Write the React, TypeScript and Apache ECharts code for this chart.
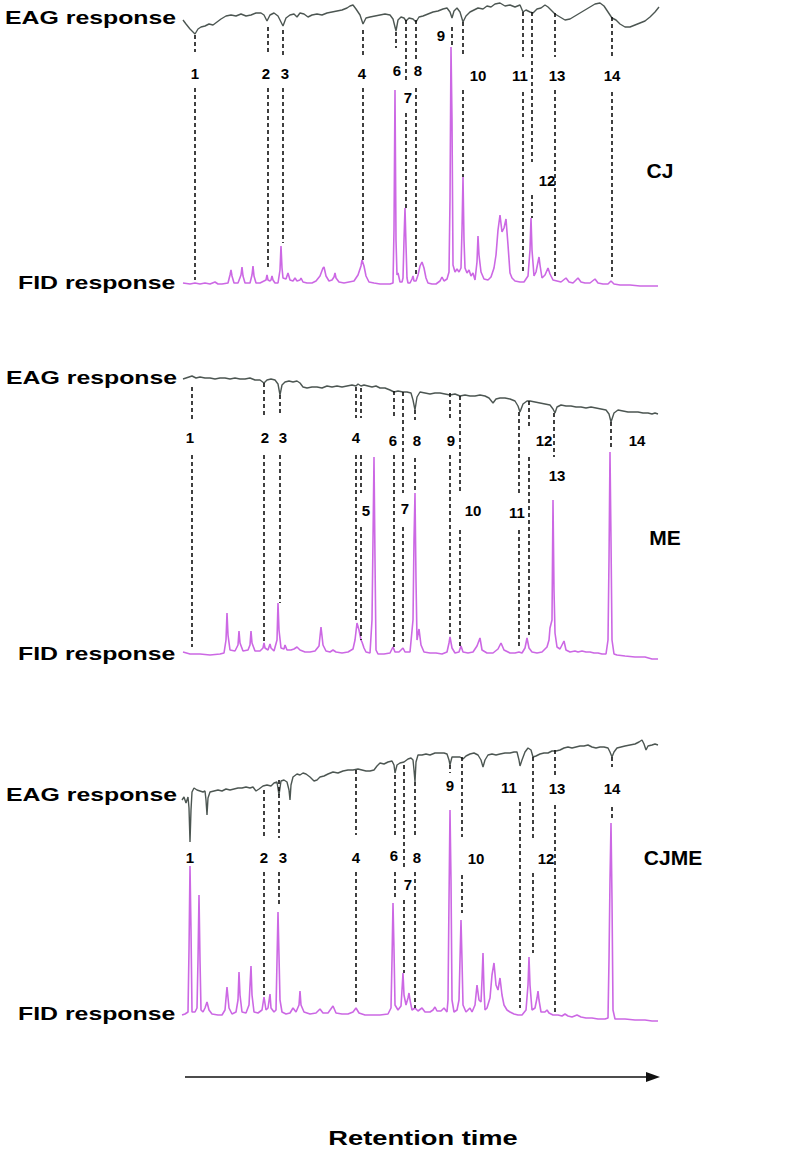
import React, { useEffect, useRef } from "react";
import * as echarts from "echarts";

// ---------- DATA (x = retention time, arbitrary s; y = detector signal, arbitrary units) ----------
const CJ_EAG = [[183,265],[186,261],[190,256],[195,251],[198,256],[201,258],[205,259],[209,261],[213,260],[217,263],[221,266],[226,269],[231,270],[236,269],[241,271],[246,269],[251,270],[256,272],[261,272],[264,270],[267,264],[270,270],[274,272],[278,269],[283,259],[286,267],[290,270],[294,271],[297,268],[300,272],[304,271],[308,268],[312,270],[317,271],[322,270],[327,272],[332,273],[337,274],[342,275],[347,277],[350,279],[353,280],[356,276],[360,270],[363,261],[366,267],[370,268],[375,269],[380,270],[385,271],[390,270],[393,266],[396,254],[398,265],[401,268],[404,267],[406,264],[409,267],[413,266],[416,263],[419,268],[423,269],[428,271],[433,273],[438,274],[443,276],[447,277],[450,273],[452,267],[454,274],[457,277],[460,273],[463,263],[466,269],[470,273],[474,275],[478,277],[483,276],[487,279],[491,278],[495,281],[500,282],[505,279],[510,280],[515,278],[520,280],[523,273],[526,275],[530,273],[533,272],[537,276],[541,277],[545,280],[548,278],[551,275],[555,271],[560,268],[565,265],[570,266],[575,269],[580,272],[585,275],[590,278],[595,281],[600,282],[604,279],[608,273],[612,267],[616,265],[620,261],[625,258],[630,258],[635,260],[640,262],[645,264],[650,268],[655,273],[659,278]];

const CJ_FID = [[183,2],[190,1],[195,2],[200,1],[205,2],[210,1],[215,3],[218,1],[222,1],[228,2],[230,10],[231,15],[232,9],[234,2],[238,2],[241,10],[242,18],[243,9],[245,2],[250,2],[252,10],[253,19],[254,9],[256,2],[260,2],[262,3],[266,5],[267,10],[268,5],[270,4],[271,5],[272,9],[273,5],[275,2],[278,2],[280,15],[281,39],[282,17],[283,7],[286,6],[288,12],[290,5],[293,4],[295,7],[297,4],[300,5],[301,7],[303,3],[307,2],[312,2],[316,4],[320,9],[323,17],[324,18],[326,9],[329,4],[332,5],[334,8],[335,12],[336,7],[339,3],[344,2],[349,3],[354,4],[358,10],[361,19],[362,25],[364,19],[366,9],[369,3],[374,2],[380,1],[386,1],[390,1],[393,2],[394,55],[395,195],[396,45],[397,10],[398,12],[400,3],[402,3],[403,7],[404,45],[405,77],[406,40],[407,7],[408,2],[410,2],[412,6],[413,9],[414,4],[416,4],[418,10],[420,19],[422,23],[424,17],[426,7],[428,2],[432,1],[436,1],[440,4],[442,8],[444,4],[447,6],[449,13],[450,85],[451,238],[452,165],[453,20],[455,13],[457,16],[459,13],[461,17],[462,55],[463,108],[464,45],[465,17],[467,12],[469,15],[471,9],[473,12],[475,5],[477,23],[478,49],[479,30],[481,13],[484,6],[488,5],[491,8],[494,17],[496,30],[498,55],[500,70],[502,53],[504,57],[506,66],[508,40],[510,12],[512,7],[515,4],[520,3],[524,3],[528,9],[530,35],[531,67],[532,35],[534,9],[536,13],[538,23],[539,28],[540,20],[542,7],[545,10],[548,17],[550,11],[553,5],[557,4],[561,3],[566,7],[569,3],[573,2],[578,7],[581,3],[585,2],[590,2],[595,6],[598,2],[603,1],[608,1],[611,4],[614,1],[620,0],[630,0],[640,-1],[650,-1],[658,-1]];

const ME_EAG = [[183,276],[186,277],[189,278],[192,279],[196,277],[200,278],[205,277],[210,277],[215,276],[220,277],[225,277],[230,276],[235,277],[240,276],[245,276],[250,277],[255,275],[260,275],[264,272],[267,275],[271,276],[275,275],[278,271],[280,260],[282,270],[285,273],[289,274],[293,273],[297,274],[300,272],[303,268],[307,267],[312,268],[317,268],[322,267],[327,269],[332,268],[337,269],[342,268],[347,269],[352,270],[356,269],[358,271],[361,269],[364,270],[368,269],[372,268],[376,269],[380,267],[385,267],[390,265],[394,263],[398,264],[403,263],[407,263],[411,262],[413,255],[415,245],[417,258],[420,263],[425,262],[430,261],[435,262],[440,262],[445,261],[450,260],[455,261],[460,259],[465,260],[470,259],[475,259],[480,260],[485,259],[489,257],[493,252],[496,256],[500,257],[505,257],[510,256],[515,254],[518,249],[520,243],[523,251],[527,254],[530,254],[535,253],[540,252],[545,251],[550,250],[553,246],[555,242],[557,248],[561,250],[566,249],[571,249],[576,248],[581,248],[586,247],[591,248],[596,247],[601,246],[606,245],[609,241],[611,233],[614,242],[618,245],[623,244],[628,243],[633,243],[638,243],[643,242],[648,242],[652,241],[655,242],[658,241]];

const ME_FID = [[183,3],[190,1],[200,1],[210,0],[220,1],[224,2],[226,15],[227,42],[228,20],[230,5],[235,4],[238,10],[239,24],[240,12],[243,4],[248,5],[250,10],[251,24],[252,12],[255,4],[260,4],[263,7],[264,12],[265,7],[268,5],[270,11],[271,7],[274,4],[277,15],[278,52],[279,25],[281,7],[284,6],[285,10],[287,5],[291,5],[294,6],[297,8],[300,5],[305,3],[310,3],[315,4],[319,9],[321,28],[323,10],[326,4],[330,3],[333,5],[336,3],[342,2],[348,3],[353,6],[355,15],[357,32],[359,25],[361,15],[362,13],[364,7],[366,3],[370,2],[372,35],[373,115],[374,198],[375,95],[376,5],[378,1],[384,1],[390,2],[393,8],[395,3],[399,3],[403,7],[405,3],[410,3],[413,35],[414,115],[415,162],[416,75],[417,15],[419,26],[421,10],[424,3],[430,2],[436,2],[442,1],[447,3],[449,12],[450,18],[452,7],[455,2],[459,3],[461,9],[463,3],[468,2],[473,3],[477,9],[480,17],[482,5],[487,2],[493,2],[498,6],[501,12],[504,5],[510,2],[515,2],[519,3],[522,2],[525,7],[527,17],[529,7],[532,3],[537,2],[542,3],[545,6],[547,8],[549,15],[550,27],[552,35],[553,155],[554,65],[555,22],[557,8],[560,6],[563,12],[564,14],[566,5],[570,3],[575,4],[578,3],[582,4],[586,3],[590,3],[594,2],[598,2],[602,1],[606,1],[608,15],[609,95],[610,203],[611,115],[612,15],[614,1],[617,0],[625,-1],[635,-2],[645,-2],[652,-4],[658,-4]];

const CJME_EAG = [[182,215],[184,218],[186,212],[188,218],[189,207],[190,173],[191,205],[192,223],[194,227],[197,225],[200,224],[203,223],[205,224],[206,215],[207,200],[208,217],[210,223],[214,224],[218,225],[222,224],[226,226],[230,225],[234,226],[238,227],[242,227],[246,228],[250,227],[253,228],[256,224],[259,226],[263,229],[267,230],[271,229],[274,232],[277,233],[279,220],[281,234],[284,235],[287,233],[289,225],[290,215],[291,230],[293,238],[297,241],[300,240],[303,242],[306,241],[310,238],[314,234],[317,235],[320,238],[324,239],[328,241],[333,243],[338,242],[343,244],[348,245],[353,245],[358,246],[362,245],[366,244],[370,244],[374,245],[377,249],[380,252],[384,251],[388,253],[392,254],[394,250],[395,242],[397,250],[400,252],[404,253],[408,256],[411,257],[413,255],[414,245],[415,233],[416,253],[418,260],[422,260],[426,261],[430,260],[435,262],[440,262],[444,262],[447,261],[449,255],[450,250],[452,258],[456,258],[460,258],[463,256],[466,259],[470,261],[474,262],[478,260],[481,255],[483,248],[485,255],[488,260],[492,261],[496,260],[500,261],[505,262],[510,262],[514,263],[517,263],[519,255],[520,249],[522,255],[525,263],[528,267],[531,265],[533,258],[536,259],[540,261],[544,262],[548,262],[552,264],[556,264],[560,265],[564,267],[568,268],[572,267],[576,268],[580,269],[584,269],[588,270],[592,268],[596,267],[600,268],[604,268],[608,267],[610,263],[612,258],[614,263],[617,267],[621,268],[625,269],[630,270],[635,271],[639,273],[642,275],[644,271],[646,265],[648,269],[652,270],[655,271],[658,270]];

const CJME_FID = [[182,0],[185,1],[188,3],[189,65],[190,149],[191,85],[192,3],[195,3],[197,7],[198,55],[199,120],[200,55],[201,5],[203,3],[205,7],[207,13],[209,5],[212,1],[218,0],[222,0],[225,5],[227,28],[229,7],[232,1],[236,3],[238,15],[239,43],[240,20],[242,3],[246,2],[249,10],[251,49],[252,20],[254,3],[258,2],[262,5],[264,18],[266,5],[268,7],[270,21],[271,7],[274,3],[276,5],[278,103],[280,15],[282,3],[286,1],[290,2],[293,7],[296,3],[299,10],[300,24],[301,10],[304,3],[310,1],[316,2],[320,6],[323,2],[328,2],[333,9],[336,2],[342,1],[348,1],[353,3],[356,7],[359,2],[365,0],[372,0],[380,0],[388,1],[391,7],[392,55],[393,112],[394,65],[395,10],[398,5],[401,9],[402,25],[403,42],[404,20],[406,10],[408,17],[409,22],[410,15],[412,5],[415,7],[418,4],[422,7],[425,3],[430,3],[433,5],[435,8],[437,4],[441,4],[444,7],[447,3],[448,15],[449,115],[450,205],[451,135],[452,15],[454,3],[457,5],[459,15],[460,55],[461,95],[462,55],[463,10],[466,3],[468,5],[470,7],[472,3],[475,10],[477,30],[479,15],[481,13],[482,35],[483,62],[484,25],[485,5],[487,7],[490,17],[492,40],[494,52],[496,30],[498,25],[500,37],[502,20],[504,10],[507,5],[510,3],[514,1],[518,0],[522,0],[526,5],[528,30],[529,58],[530,30],[532,5],[535,7],[537,17],[538,24],[539,15],[541,3],[545,3],[547,5],[549,2],[553,0],[558,0],[562,-1],[565,1],[568,-1],[572,-2],[577,0],[581,-2],[586,-3],[592,-3],[598,-4],[605,-4],[608,-3],[609,55],[610,135],[611,192],[612,115],[613,5],[615,-4],[625,-4],[635,-5],[645,-5],[652,-6],[658,-6]];

// EAD-active peak markers: [retention time, [[from, to], ...] dashed spans]
const CJ_LINES = [[195,[[250,233],[197,5]]],[268,[[258,230],[197,18]]],[283,[[255,230],[197,42]]],[363,[[255,230],[197,25]]],[396,[[253,237]]],[406,[[265,205],[172,77]]],[416,[[265,225],[197,8]]],[452,[[258,237]]],[463,[[263,228],[195,108]]],[523,[[273,228],[193,12]]],[532,[[273,123],[90,67]]],[555,[[272,228],[195,7]]],[612,[[268,228],[193,8]]]];
const ME_LINES = [[192,[[268,235],[200,8]]],[264,[[272,240],[200,12]]],[280,[[260,240],[200,52]]],[356,[[268,237],[200,32]]],[361,[[267,237],[200,162],[128,15]]],[394,[[264,237],[200,8]]],[403,[[263,162],[128,13]]],[415,[[245,235],[197,162]]],[450,[[262,235],[200,18]]],[460,[[259,163],[125,8]]],[519,[[243,160],[125,8]]],[529,[[254,228],[198,20]]],[554,[[242,198]]],[611,[[233,205]]]];
const CJME_LINES = [[264,[[225,178],[143,18]]],[279,[[235,177],[143,108]]],[356,[[245,180],[143,12]]],[395,[[240,180],[143,115]]],[404,[[250,148],[115,42]]],[415,[[233,177],[143,7]]],[450,[[250,242]]],[462,[[258,178],[140,102]]],[520,[[213,7]]],[533,[[258,175],[142,62]]],[555,[[265,238],[210,2]]],[612,[[258,248],[208,195]]]];

// peak number labels: [text, retention time, signal]
const CJ_LABELS = [["1",195,212],["2",266,212],["3",285,212],["4",362,212],["6",397,215],["7",408,188],["8",418,215],["9",441,250],["10",478,210],["11",520,210],["12",547,105],["13",557,210],["14",612,210]];
const ME_LABELS = [["1",190,218],["2",265,218],["3",283,218],["4",356,218],["5",366,145],["6",393,215],["7",405,147],["8",417,215],["9",451,215],["10",473,145],["11",517,143],["12",544,215],["13",557,180],["14",637,215]];
const CJME_LABELS = [["1",190,158],["2",264,158],["3",283,158],["4",356,158],["6",394,160],["7",408,131],["8",417,158],["9",450,230],["10",476,157],["11",509,228],["12",546,157],["13",557,227],["14",612,227]];

const PANEL_NAMES = ["CJ", "ME", "CJME"];
const TRACE_NAMES = ["EAG response", "FID response"];
const AXIS_TITLE = "Retention time";

const FONT = "'Liberation Sans', Arial, Helvetica, sans-serif";

export default function App() {
  const ref = useRef<HTMLDivElement>(null);
  useEffect(() => {
    if (!ref.current) return;
    const chart = echarts.init(ref.current, null, { renderer: "svg" });

    const panels = [
      { eag: CJ_EAG, fid: CJ_FID, lines: CJ_LINES, labels: CJ_LABELS, top: 0, height: 300, min: -15, max: 285 },
      { eag: ME_EAG, fid: ME_FID, lines: ME_LINES, labels: ME_LABELS, top: 360, height: 310, min: -15, max: 295 },
      { eag: CJME_EAG, fid: CJME_FID, lines: CJME_LINES, labels: CJME_LABELS, top: 730, height: 300, min: -15, max: 285 },
    ];

    const grid = panels.map((p) => ({ left: 180, width: 480, top: p.top, height: p.height, containLabel: false }));
    const xAxis = panels.map((_, i) => ({ type: "value", gridIndex: i, min: 180, max: 660, show: false }));
    const yAxis = panels.map((p, i) => ({ type: "value", gridIndex: i, min: p.min, max: p.max, show: false }));

    const series: any[] = [];
    panels.forEach((p, i) => {
      const mlData: any[] = [];
      (p.lines as any[]).forEach(([x, spans]) => {
        spans.forEach(([a, b]: number[]) => {
          mlData.push([{ coord: [x, a] }, { coord: [x, b] }]);
        });
      });
      series.push({
        type: "line",
        xAxisIndex: i,
        yAxisIndex: i,
        data: p.fid,
        symbol: "none",
        lineStyle: { color: "#cc68e4", width: 1.6 },
        z: 2,
        silent: true,
      });
      series.push({
        type: "line",
        xAxisIndex: i,
        yAxisIndex: i,
        data: p.eag,
        symbol: "none",
        lineStyle: { color: "#4c5652", width: 1.4 },
        z: 3,
        silent: true,
        markLine: {
          silent: true,
          symbol: ["none", "none"],
          label: { show: false },
          lineStyle: { color: "#111111", width: 1.6, type: [4, 3] },
          emphasis: { disabled: true },
          data: mlData,
        },
      });
      series.push({
        type: "scatter",
        xAxisIndex: i,
        yAxisIndex: i,
        symbol: "circle",
        symbolSize: 0.1,
        itemStyle: { color: "#111111", opacity: 1 },
        silent: true,
        z: 5,
        data: (p.labels as any[]).map(([t, x, y]) => ({ name: t, value: [x, y] })),
        label: {
          show: true,
          position: "inside",
          formatter: "{b}",
          fontSize: 15,
          fontWeight: "bold",
          color: "#000000",
          textBorderWidth: 0,
          opacity: 1,
          fontFamily: FONT,
        },
      });
    });

    const traceText = (text: string, x: number, y: number) => ({
      type: "text",
      x,
      y,
      scaleX: 1.38,
      style: { text, fill: "#000", font: `bold 18px ${FONT}`, verticalAlign: "middle", align: "left" },
    });
    const panelText = (text: string, x: number, y: number) => ({
      type: "text",
      x,
      y,
      style: { text, fill: "#000", font: `bold 21px ${FONT}`, align: "center", verticalAlign: "middle" },
    });

    const graphic: any[] = [
      traceText(TRACE_NAMES[0], 5, 18),
      traceText(TRACE_NAMES[1], 18, 283),
      traceText(TRACE_NAMES[0], 6, 378),
      traceText(TRACE_NAMES[1], 18, 654),
      traceText(TRACE_NAMES[0], 6, 795),
      traceText(TRACE_NAMES[1], 18, 1014),
      panelText(PANEL_NAMES[0], 660, 170),
      panelText(PANEL_NAMES[1], 665, 537),
      panelText(PANEL_NAMES[2], 673, 857),
      { type: "line", shape: { x1: 185, y1: 1077, x2: 650, y2: 1077 }, style: { stroke: "#111", lineWidth: 1.5 } },
      { type: "polygon", shape: { points: [[646, 1072], [660, 1077], [646, 1082]] }, style: { fill: "#111" } },
      {
        type: "text",
        x: 423,
        y: 1138,
        scaleX: 1.3,
        style: { text: AXIS_TITLE, fill: "#000", font: `bold 21px ${FONT}`, align: "center", verticalAlign: "middle" },
      },
    ];

    chart.setOption({
      animation: false,
      backgroundColor: "#ffffff",
      grid,
      xAxis,
      yAxis,
      series,
      graphic,
    });
    return () => chart.dispose();
  }, []);
  return <div ref={ref} style={{ position: "absolute", left: 0, top: 0, width: 799, height: 1166 }} />;
}
